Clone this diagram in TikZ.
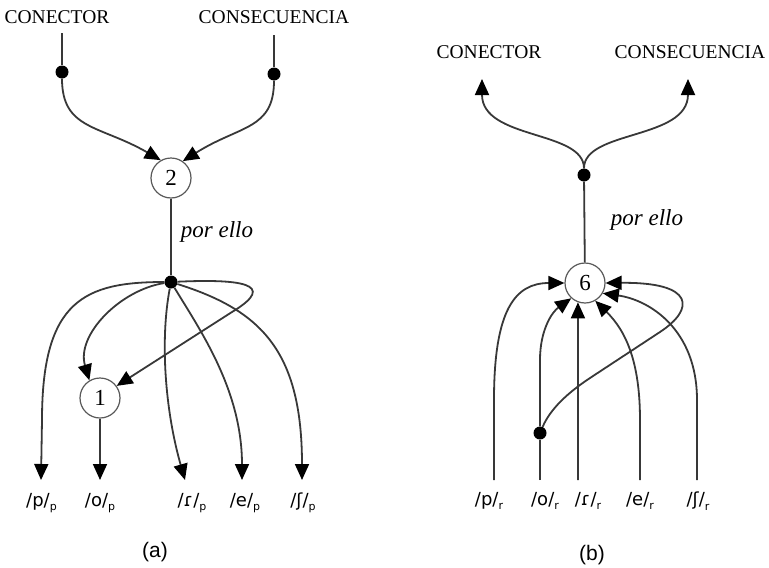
\documentclass[tikz,border=0pt]{standalone}
\usepackage{fontspec}
\newfontfamily\labfont{DejaVu Sans}
\newfontfamily\capfont{Liberation Sans}
\newfontfamily\serfont{Liberation Serif}
\usetikzlibrary{arrows.meta}
\newcommand{\phon}[2]{/#1/\raisebox{-4.5pt}{\fontsize{11}{11}\selectfont #2}}
\begin{document}
\begin{tikzpicture}[x=1pt,y=-1pt,
  conn/.style={draw=black!78, line width=1.8pt},
  arr/.style={conn, -{Triangle[length=16pt,width=14pt,color=black]}},
  dot/.style={circle, fill=black, inner sep=0pt, minimum size=13pt},
  unit/.style={circle, draw=black!65, line width=1.2pt, fill=white, inner sep=0pt, minimum size=40pt, font=\serfont\fontsize{23}{23}\selectfont},
  toplab/.style={font=\serfont\fontsize{19.5}{19.5}\selectfont},
  lab/.style={font=\labfont\fontsize{18}{18}\selectfont},
  capt/.style={font=\capfont\fontsize{21}{21}\selectfont},
  rel/.style={font=\serfont\itshape\fontsize{23}{23}\selectfont}]
\useasboundingbox (0,0) rectangle (769,568);

% ---------- panel (a) ----------
\node[toplab] (conA) at (57,17) {CONECTOR};
\node[toplab] (conseqA) at (274,17) {CONSECUENCIA};
\coordinate (tA1) at (62,33);
\coordinate (tA2) at (274,35);
\node[dot] (dA1) at (62,72) {};
\node[dot] (dA2) at (274,74) {};
\node[unit] (n2) at (171,178) {2};
\node[dot] (dA) at (171,282) {};
\node[rel] (relA) at (217,232) {por ello};
\node[unit] (n1) at (100,398) {1};
\coordinate (pA) at (41,480);
\coordinate (oA) at (100,480);
\coordinate (rA) at (185,480);
\coordinate (eA) at (242,480);
\coordinate (sA) at (302,480);
\node[lab] (lpA) at (41.5,503) {\phon{p}{p}};
\node[lab] (loA) at (100,503) {\phon{o}{p}};
\node[lab] (lrA) at (192,503) {\phon{ɾ}{p}};
\node[lab] (leA) at (245,503) {\phon{e}{p}};
\node[lab] (lsA) at (303,503) {\phon{ʃ}{p}};
\node[capt] (capA) at (155,552) {(a)};

\draw[conn] (tA1) -- (dA1);
\draw[conn] (tA2) -- (dA2);
\draw[arr] (dA1) .. controls (62,130) and (100,125) .. (n2.120);
\draw[arr] (dA2) .. controls (274,130) and (240,125) .. (n2.55);
\draw[conn] (n2) -- (dA);
\draw[arr] (dA) .. controls (85,282) and (42,300) .. (42,420) -- (pA);
\draw[arr] (dA) .. controls (120,290) and (76,335) .. (n1.121);
\draw[arr] (dA) .. controls (238,279) and (280,283) .. (232,312) -- (n1.36);
\draw[arr] (dA) .. controls (160,340) and (165,410) .. (rA);
\draw[arr] (dA) .. controls (200,330) and (242,390) .. (eA);
\draw[arr] (dA) .. controls (260,310) and (302,350) .. (sA);
\draw[arr] (n1) -- (oA);

% ---------- panel (b) ----------
\node[toplab] (conB) at (489,52) {CONECTOR};
\node[toplab] (conseqB) at (690,52) {CONSECUENCIA};
\coordinate (uB1) at (482,79);
\coordinate (uB2) at (688,79);
\node[dot] (dB) at (584,175) {};
\node[unit] (n6) at (585,283) {6};
\node[rel] (relB) at (647,220) {por ello};
\coordinate (pB) at (494,480);
\coordinate (oB) at (540,480);
\coordinate (rB) at (578,480);
\coordinate (eB) at (640,480);
\coordinate (sB) at (697,480);
\node[dot] (dO) at (540,433) {};
\node[lab] (lpB) at (489,501) {\phon{p}{r}};
\node[lab] (loB) at (545,501) {\phon{o}{r}};
\node[lab] (lrB) at (588,501) {\phon{ɾ}{r}};
\node[lab] (leB) at (640,501) {\phon{e}{r}};
\node[lab] (lsB) at (698,501) {\phon{ʃ}{r}};
\node[capt] (capB) at (592,555) {(b)};

\draw[arr] (dB) .. controls (584,130) and (482,140) .. (uB1);
\draw[arr] (dB) .. controls (584,130) and (688,140) .. (uB2);
\draw[conn] (dB) -- (n6);
\draw[arr] (pB) -- (494,400) .. controls (494,310) and (515,283) .. (n6.west);
\draw[conn] (oB) -- (dO);
\draw[arr] (dO) -- (540,360) .. controls (540,330) and (552,312) .. (n6.228);
\draw[arr] (rB) -- (n6.250);
\draw[arr] (eB) -- (640,420) .. controls (640,360) and (625,330) .. (n6.-60);
\draw[arr] (sB) -- (697,400) .. controls (697,330) and (650,300) .. (n6.-30);
\draw[arr] (dO) .. controls (552,405) and (575,388) .. (590,378) -- (660,332) .. controls (695,309) and (695,282) .. (n6.east);
\end{tikzpicture}
\end{document}
